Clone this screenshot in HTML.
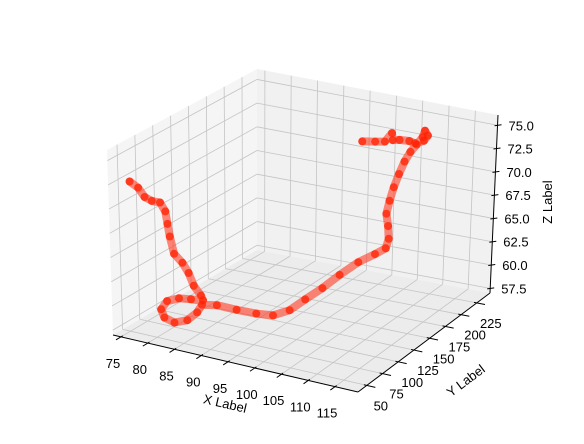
<!DOCTYPE html>
<html><head><meta charset="utf-8"><style>
html,body{margin:0;padding:0;background:#fff;}
svg{display:block;font-family:"Liberation Sans","DejaVu Sans",sans-serif;}
</style></head><body>
<svg id="chart" width="584" height="444" viewBox="0 0 584 444" xmlns="http://www.w3.org/2000/svg">
<g id="panes"></g>
<g id="grid"></g>
<g id="axes"></g>
<g id="marks"></g>
<text x="225" y="408" font-size="13" text-anchor="middle" transform="rotate(13 225 404)">X Label</text>
<text x="466" y="385" font-size="13" text-anchor="middle" transform="rotate(-37 466 381)">Y Label</text>
<text x="548" y="206" font-size="13" text-anchor="middle" transform="rotate(-90 548 202)">Z Label</text>
</svg>
<script>
const xVals=[76.0,76.5,77.0,77.5,78.5,79.0,79.5,80.0,80.5,81.0,81.5,82.0,83.0,83.5,
82.5,81.5,80.5,80.0,80.5,81.5,82.5,83.0,83.5,
85.0,87.5,90.5,93.5,96.0,98.0,99.8,101.6,103.2,104.8,105.5,
105.5,105.5,105.0,105.5,106.0,106.5,106.7,106.8,107.2,107.2,
107.0,107.5,107.5,107.0,106.5,105.5,105.0,105.0,104.0,103.5,102.5];
const yVals=[47.1,54.9,59.8,66.0,69.9,73.3,72.3,71.3,73.2,81.0,85.9,89.2,91.7,90.7,
81.0,71.3,61.6,56.7,57.2,64.0,75.1,85.9,89.2,
99.4,109.0,114.8,116.2,121.4,129.2,140.8,152.5,167.9,180.6,191.2,
195.6,194.2,195.2,195.6,197.5,200.9,207.3,215.0,221.3,230.0,
234.8,235.4,229.6,220.3,215.4,208.7,202.3,200.9,198.5,187.9,176.7];
const zVals=[72.7,71.8,70.7,70.1,69.9,68.9,67.7,66.5,64.7,63.5,62.3,60.9,59.9,59.5,
59.9,60.3,60.3,59.6,58.8,58.1,58.0,58.4,59.1,
58.8,58.2,57.9,58.0,58.6,59.6,60.45,61.5,62.3,62.75,62.95,
63.75,65.15,66.35,67.75,69.15,70.45,71.5,72.2,72.75,73.15,
73.6,73.1,72.8,72.9,73.3,73.6,73.8,74.6,73.7,74.1,74.5];
const xTicks=[75,80,85,90,95,100,105,110,115];
const yTicks=[50,75,100,125,150,175,200,225];
const zTicks=[57.5,60.0,62.5,65.0,67.5,70.0,72.5,75.0];
const xRange=[73.5,119.3], yRange=[36,246], zRange=[57,76.1];

const K={A:[113,335],B:[358,392],C:[490,293],D:[257,250],A1:[107,150],B1:[360,202],C1:[498,115],D1:[257,69]};
function lerp(p,q,t){return [p[0]+(q[0]-p[0])*t,p[1]+(q[1]-p[1])*t];}
function proj(x,y,z){
  const u=(x-xRange[0])/(xRange[1]-xRange[0]);
  const v=(y-yRange[0])/(yRange[1]-yRange[0]);
  const w=(z-zRange[0])/(zRange[1]-zRange[0]);
  const b0=lerp(lerp(K.A,K.B,u),lerp(K.D,K.C,u),v);
  const b1=lerp(lerp(K.A1,K.B1,u),lerp(K.D1,K.C1,u),v);
  return lerp(b0,b1,w);
}
const NS="http://www.w3.org/2000/svg";
function mk(parent,tag,attrs){const e=document.createElementNS(NS,tag);for(const k in attrs)e.setAttribute(k,attrs[k]);parent.appendChild(e);return e;}
function pts(arr){return arr.map(p=>p[0].toFixed(1)+','+p[1].toFixed(1)).join(' ');}
function line(parent,p,q,stroke,w){return mk(parent,'line',{x1:p[0],y1:p[1],x2:q[0],y2:q[1],stroke:stroke,'stroke-width':w});}

const panes=document.getElementById('panes');
const [x0,x1]=xRange,[y0,y1]=yRange,[z0,z1]=zRange;
let e;
e=mk(panes,'polygon',{points:pts([proj(x0,y0,z0),proj(x0,y1,z0),proj(x0,y1,z1),proj(x0,y0,z1)]),fill:'#f5f5f5'});


e=mk(panes,'polygon',{points:pts([proj(x0,y1,z0),proj(x1,y1,z0),proj(x1,y1,z1),proj(x0,y1,z1)]),fill:'#f1f1f1'});


e=mk(panes,'polygon',{points:pts([proj(x0,y0,z0),proj(x1,y0,z0),proj(x1,y1,z0),proj(x0,y1,z0)]),fill:'#ececec'});



const grid=document.getElementById('grid');
const gc='#c4c4c4';
xTicks.forEach(t=>{
  e=line(grid,proj(t,y0,z0),proj(t,y1,z0),gc,0.8);
  
  
  e=line(grid,proj(t,y1,z0),proj(t,y1,z1),gc,0.8);
  
  
});
yTicks.forEach(t=>{
  e=line(grid,proj(x0,t,z0),proj(x1,t,z0),gc,0.8);
  
  
  e=line(grid,proj(x0,t,z0),proj(x0,t,z1),gc,0.8);
  
  
});
zTicks.forEach(t=>{
  e=line(grid,proj(x0,y0,t),proj(x0,y1,t),gc,0.8);
  
  
  e=line(grid,proj(x0,y1,t),proj(x1,y1,t),gc,0.8);
  
  
});

const axes=document.getElementById('axes');
e=line(axes,proj(x0,y0,z0),proj(x1,y0,z0),'#000',1);


e=line(axes,proj(x1,y0,z0),proj(x1,y1,z0),'#000',1);


e=line(axes,proj(x1,y1,z0),proj(x1,y1,z1),'#000',1);


const dy=(y1-y0), dx=(x1-x0);
xTicks.forEach(t=>{
  e=line(axes,proj(t,y0-0.035*dy,z0),proj(t,y0+0.012*dy,z0),'#000',1);
  
  
  const p=proj(t,y0,z0);
  e=mk(axes,'text',{x:p[0]-8,y:p[1]+31,'font-size':13,'text-anchor':'middle',fill:'#000'});
  e.textContent=String(t);
  
  
});
yTicks.forEach(t=>{
  e=line(axes,proj(x1-0.012*dx,t,z0),proj(x1+0.035*dx,t,z0),'#000',1);
  
  
  const p=proj(x1,t,z0);
  e=mk(axes,'text',{x:p[0]+14,y:p[1]+25,'font-size':13,'text-anchor':'middle',fill:'#000'});
  e.textContent=String(t);
  
  
});
zTicks.forEach(t=>{
  const p=proj(x1,y1,t);
  e=line(axes,[p[0]-3,p[1]+0.5],[p[0]+4,p[1]-0.5],'#000',1);
  
  
  e=mk(axes,'text',{x:p[0]+11,y:p[1]+5,'font-size':13,'text-anchor':'start',fill:'#000'});
  e.textContent=t.toFixed(1);
  
  
});

const marks=document.getElementById('marks');
const P=xVals.map((x,i)=>proj(x,yVals[i],zVals[i]));
e=mk(marks,'polyline',{points:pts(P),fill:'none',stroke:'#ff3a22','stroke-width':8,'stroke-linecap':'round','stroke-linejoin':'round','stroke-opacity':0.6});


P.forEach(p=>{
  e=mk(marks,'circle',{cx:p[0].toFixed(1),cy:p[1].toFixed(1),r:4,fill:'#ff2000','fill-opacity':0.75});
  
  
});
</script>
</body></html>
